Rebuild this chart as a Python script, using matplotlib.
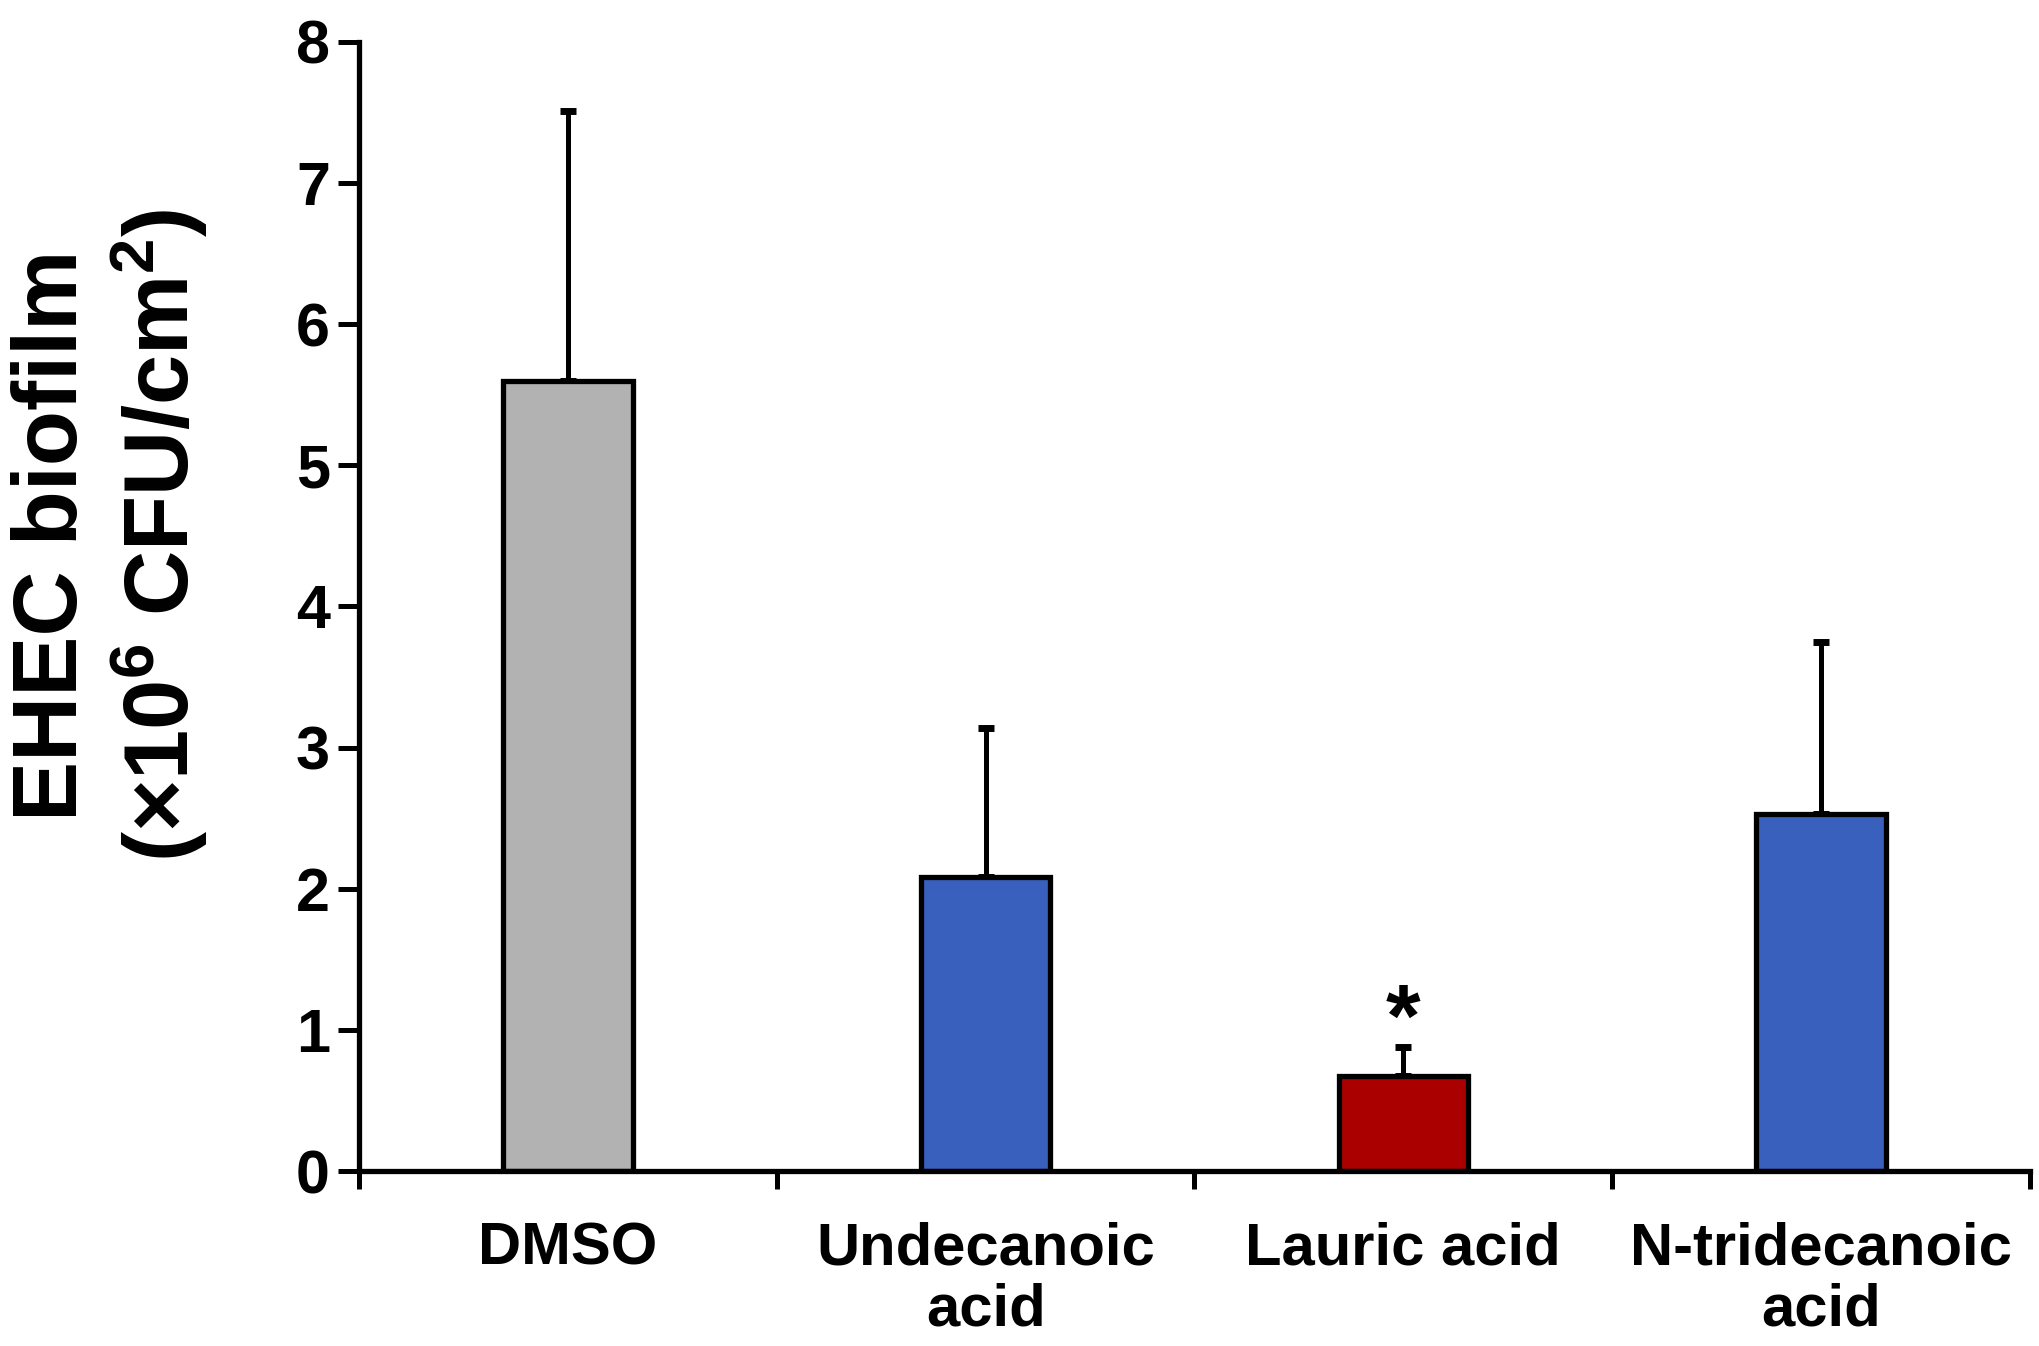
import numpy as np
import matplotlib
matplotlib.use('Agg')
import matplotlib.pyplot as plt

# Data
categories = ['DMSO', 'Undecanoic\nacid', 'Lauric acid', 'N-tridecanoic\nacid']
means = [5.60, 2.08, 0.67, 2.53]
errors = [1.91, 1.06, 0.21, 1.22]
colors = ['#B2B2B2', '#3A60BE', '#AA0000', '#3A60BE']
significant = [False, False, True, False]

plt.rcParams['font.family'] = ['Liberation Sans', 'DejaVu Sans']
plt.rcParams['font.weight'] = 'bold'
plt.rcParams['mathtext.fontset'] = 'custom'
plt.rcParams['mathtext.rm'] = 'Liberation Sans:bold'
plt.rcParams['mathtext.default'] = 'rm'

fig = plt.figure(figsize=(20.4, 13.46), dpi=100)
ax = fig.add_axes([0.176, 0.130, 0.819, 0.839])

x = np.arange(len(categories))
ax.bar(x, means, width=0.31, color=colors, edgecolor='black', linewidth=3.8, zorder=2)
ax.errorbar(x, means, yerr=[np.zeros(len(errors)), errors], fmt='none',
            ecolor='black', elinewidth=3.6, capsize=5.5, capthick=5, zorder=1)

# significance marker
for xi, m, e, s in zip(x, means, errors, significant):
    if s:
        ax.text(xi, m + e + 0.17, '*', ha='center', va='center',
                fontsize=64, fontweight='bold')

ax.set_xlim(-0.5, 3.5)
ax.set_ylim(0, 8)
ax.set_yticks(range(0, 9))
ax.set_xticks(x)
ax.set_xticklabels(categories, fontsize=43, fontweight='bold', linespacing=1.15)
ax.set_xticks(np.arange(-0.5, 4.0, 1.0), minor=True)
ax.tick_params(axis='x', which='major', length=0, pad=36)
ax.tick_params(axis='x', which='minor', length=13, width=3.6, direction='out')
ax.tick_params(axis='y', length=15, width=3.6, direction='out', pad=6,
               labelsize=44)
for lab in ax.get_yticklabels():
    lab.set_fontweight('bold')

ax.spines['top'].set_visible(False)
ax.spines['right'].set_visible(False)
ax.spines['left'].set_linewidth(3.8)
ax.spines['bottom'].set_linewidth(3.8)

ax.set_ylabel('EHEC biofilm\n(×10$^{6}$ CFU/cm$^{2}$)', fontsize=65,
              fontweight='bold', linespacing=1.16)
ax.yaxis.set_label_coords(-0.089, 0.563)

fig.savefig('out.png', dpi=100)
